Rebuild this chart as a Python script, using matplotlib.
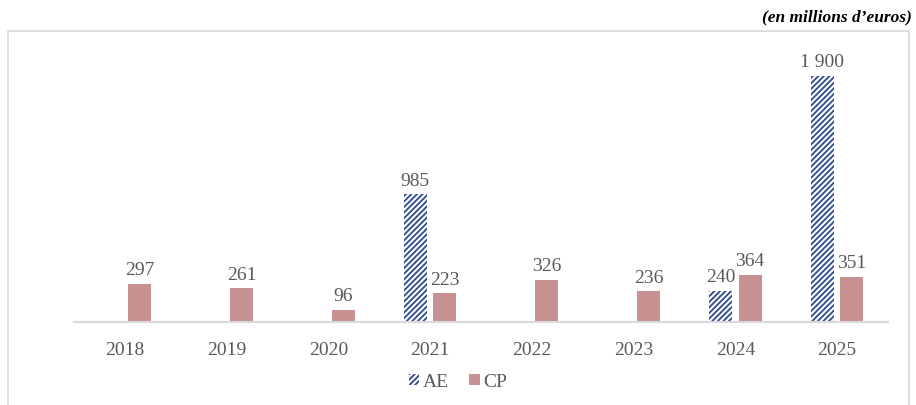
import matplotlib.pyplot as plt
import matplotlib.patches as mpatches
import numpy as np

# data (millions d'euros)
years = ['2018', '2019', '2020', '2021', '2022', '2023', '2024', '2025']
ae = [0, 0, 0, 985, 0, 0, 240, 1900]
cp = [297, 261, 96, 223, 326, 236, 364, 351]

ae_color = '#2E4A8E'
cp_color = '#C69190'
text_color = '#595959'
grid_color = '#D9D9D9'

plt.rcParams['font.family'] = ['Liberation Serif', 'DejaVu Serif']
plt.rcParams['hatch.linewidth'] = 1.3

fig = plt.figure(figsize=(9.16, 4.06), dpi=100)
ax = fig.add_axes([74 / 916, 1 - 323 / 406, (888 - 74) / 916, (323 - 45) / 406])

x = np.arange(len(years))
w = 0.225
off = 0.145

for i, v in enumerate(ae):
    if v > 0:
        ax.bar(x[i] - off, v, w, color='white', edgecolor=ae_color,
               hatch='//////', linewidth=0)
        ax.annotate(f"{v:,}".replace(',', ' '), (x[i] - off, v),
                    xytext=(0, 4), textcoords='offset points',
                    ha='center', va='bottom', fontsize=14, color=text_color)

ax.bar(x + off, cp, w, color=cp_color, linewidth=0)
for i, v in enumerate(cp):
    ax.annotate(str(v), (x[i] + off, v), xytext=(0, 4),
                textcoords='offset points', ha='center', va='bottom',
                fontsize=14, color=text_color)

ax.set_xlim(-0.5, len(years) - 0.5)
ax.set_ylim(0, 1900 / 246 * 278)
ax.set_xticks(x)
ax.set_xticklabels(years, fontsize=14, color=text_color)
ax.tick_params(axis='x', length=0, pad=14)
ax.set_yticks([])
for s in ['top', 'right', 'left']:
    ax.spines[s].set_visible(False)
ax.spines['bottom'].set_color(grid_color)
ax.spines['bottom'].set_linewidth(1.5)

# outer frame
frame = mpatches.Rectangle((8 / 916, -0.05), (909 - 8) / 916, 1 - 32 / 406 + 0.05,
                           transform=fig.transFigure, fill=False,
                           edgecolor=grid_color, linewidth=1.2)
fig.patches.append(frame)

fig.text(912 / 916, 1 - 17 / 406, "(en millions d\u2019euros)", ha='right', va='center',
         fontsize=12.5, style='italic', weight='bold', color='black')

handles = [mpatches.Patch(facecolor='white', edgecolor=ae_color, hatch='//////', linewidth=0, label='AE'),
           mpatches.Patch(facecolor=cp_color, linewidth=0, label='CP')]
fig.legend(handles=handles, loc='center', bbox_to_anchor=(458 / 916, 1 - 383 / 406),
           ncol=2, frameon=False, fontsize=14, handlelength=0.55, handleheight=0.55,
           handletextpad=0.2, columnspacing=1.0, labelcolor=text_color)

fig.savefig('out.png', dpi=100)
